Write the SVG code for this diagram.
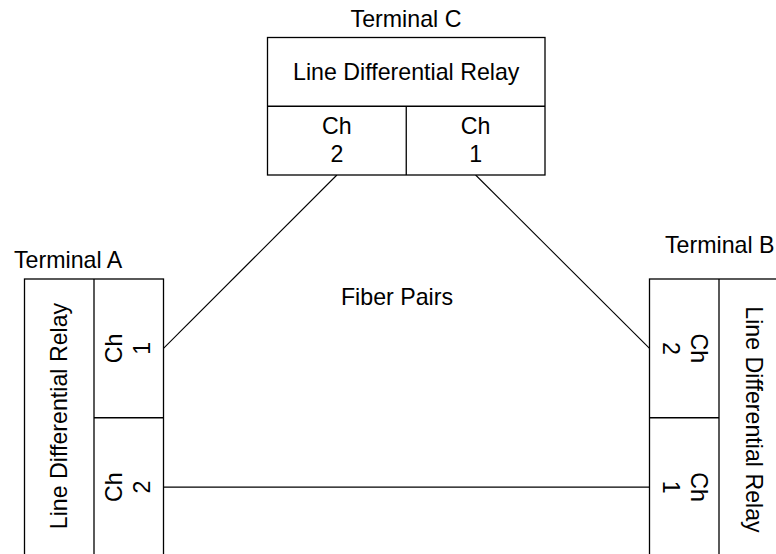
<svg xmlns="http://www.w3.org/2000/svg" width="776" height="554" viewBox="0 0 776 554">
<style>
.b{fill:#fff;stroke:#000;stroke-width:1.3}
.d{fill:none;stroke:#000;stroke-width:1.3}
.c{fill:none;stroke:#000;stroke-width:1.1}
text{font-family:"Liberation Sans",Arial,sans-serif;font-size:23.2px;fill:#000}
.m{text-anchor:middle}
</style>
<rect width="776" height="554" fill="#fff"/>
<g id="connectors">
<line class="c" x1="336.9" y1="175" x2="163.5" y2="348.4"/>
<line class="c" x1="475.6" y1="175" x2="649.5" y2="348.4"/>
<line class="c" x1="163.5" y1="487.1" x2="649.5" y2="487.1"/>
</g>
<text class="m" x="406" y="27">Terminal C</text>
<text x="14" y="268">Terminal A</text>
<text x="665" y="253">Terminal B</text>
<text class="m" x="397" y="305">Fiber Pairs</text>
<g id="terminalC">
<rect class="b" x="267.5" y="37.5" width="277.5" height="137.5"/>
<line class="d" x1="267.5" y1="106.25" x2="545" y2="106.25"/>
<line class="d" x1="406.25" y1="106.25" x2="406.25" y2="175"/>
<text class="m" x="406.25" y="79.5">Line Differential Relay</text>
<text class="m" x="336.9" y="134">Ch<tspan x="336.9" dy="28">2</tspan></text>
<text class="m" x="475.6" y="134">Ch<tspan x="475.6" dy="28">1</tspan></text>
</g>
<g id="terminalA">
<rect class="b" x="24.5" y="279" width="139" height="277.5"/>
<line class="d" x1="94" y1="279" x2="94" y2="556.5"/>
<line class="d" x1="94" y1="417.75" x2="163.5" y2="417.75"/>
<text class="m" transform="translate(59.25,416) rotate(-90)" x="0" y="7.8">Line Differential Relay</text>
<text class="m" transform="translate(128.75,348.4) rotate(-90)" x="0" y="-6.9">Ch<tspan x="0" dy="28">1</tspan></text>
<text class="m" transform="translate(128.75,487.1) rotate(-90)" x="0" y="-6.9">Ch<tspan x="0" dy="28">2</tspan></text>
</g>
<g id="terminalB">
<rect class="b" x="649.5" y="279" width="139" height="277.5"/>
<line class="d" x1="719" y1="279" x2="719" y2="556.5"/>
<line class="d" x1="649.5" y1="417.75" x2="719" y2="417.75"/>
<text class="m" transform="translate(753.75,419.5) rotate(90)" x="0" y="7.8">Line Differential Relay</text>
<text class="m" transform="translate(684.25,348.4) rotate(90)" x="0" y="-6.9">Ch<tspan x="0" dy="28">2</tspan></text>
<text class="m" transform="translate(684.25,487.1) rotate(90)" x="0" y="-6.9">Ch<tspan x="0" dy="28">1</tspan></text>
</g>
</svg>
